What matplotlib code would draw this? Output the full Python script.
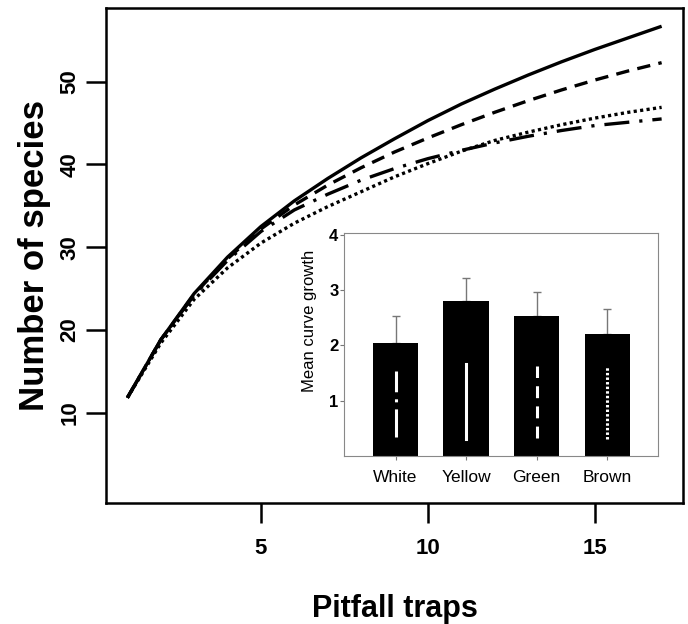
import matplotlib
matplotlib.use("Agg")
import matplotlib.pyplot as plt

plt.rcParams['font.family'] = ['Liberation Sans', 'DejaVu Sans']

# rarefaction curves (number of species vs pitfall traps)
traps = [1, 2, 3, 4, 5, 6, 7, 8, 9, 10, 11, 12, 13, 14, 15, 16, 17]
yellow = [11.8, 18.8, 24.4, 28.8, 32.5, 35.6, 38.3, 40.8, 43.1, 45.3, 47.3,
          49.1, 50.8, 52.4, 53.9, 55.3, 56.7]
green = [11.8, 18.8, 24.3, 28.6, 32.2, 35.1, 37.5, 39.6, 41.5, 43.2, 44.8,
         46.3, 47.7, 49.0, 50.2, 51.3, 52.3]
white = [11.8, 18.8, 24.2, 28.4, 31.9, 34.5, 36.4, 38.1, 39.5, 40.7, 41.7,
         42.6, 43.4, 44.1, 44.7, 45.1, 45.5]
brown = [11.8, 18.4, 23.7, 27.5, 30.5, 32.9, 34.9, 36.7, 38.5, 40.1, 41.6,
         42.9, 43.9, 44.8, 45.6, 46.3, 46.9]

# inset: mean curve growth
colours = ['White', 'Yellow', 'Green', 'Brown']
growth = [2.05, 2.81, 2.53, 2.20]
growth_err = [0.48, 0.41, 0.43, 0.46]
# white line-type keys drawn inside the bars
key_bottom = [0.35, 0.30, 0.32, 0.31]
key_top = [1.54, 1.66, 1.63, 1.62]

W, H = 688, 624
fig = plt.figure(figsize=(W / 100, H / 100), dpi=100)
ax = fig.add_axes([106 / W, 1 - 502.7 / H, 577 / W, 494.4 / H])

lw = 2.4
ax.plot(traps, brown, color='k', lw=lw, dashes=(0.95, 1.0))
ax.plot(traps, white, color='k', lw=lw, dashes=(7.5, 3.0, 0.95, 3.0))
ax.plot(traps, green, color='k', lw=lw, dashes=(4.0, 2.5))
ax.plot(traps, yellow, color='k', lw=lw, solid_capstyle='butt')

# R-style 4% padding around 1..17
ax.set_xlim(0.36, 17.64)
ax.set_ylim(-0.88, 58.87)
ax.set_xticks([5, 10, 15])
ax.set_yticks([10, 20, 30, 40, 50])
ax.set_xticklabels(['5', '10', '15'], fontsize=16, fontweight='bold')
ax.set_yticklabels(['10', '20', '30', '40', '50'], fontsize=16,
                   fontweight='bold', rotation=90, va='center')
ax.tick_params(axis='both', length=14.5, width=1.8, direction='out')
ax.tick_params(axis='x', pad=11)
ax.tick_params(axis='y', pad=4)
for s in ax.spines.values():
    s.set_linewidth(1.8)
ax.set_xlabel('Pitfall traps', fontsize=22, fontweight='bold', labelpad=25)
ax.set_ylabel('Number of species', fontsize=25, fontweight='bold', labelpad=6)

# inset bar chart
ins = fig.add_axes([344 / W, 1 - 456 / H, 314 / W, 223 / H])
ins.set_facecolor('white')
pos = [1, 2, 3, 4]
ins.bar(pos, growth, width=0.64, color='black', zorder=2)
ins.errorbar(pos, growth, yerr=[[0] * 4, growth_err], fmt='none',
             ecolor='#777777', elinewidth=1.0, capsize=3, capthick=1.0,
             zorder=1)
key_styles = [(9.2, 2.3, 1.0, 2.3), None, (3.9, 2.7), (0.8, 0.7)]
for p, b, t, d in zip(pos, key_bottom, key_top, key_styles):
    if d is None:
        ins.plot([p, p], [b, t], color='white', lw=2.2, zorder=3)
    else:
        ins.plot([p, p], [b, t], color='white', lw=2.2, dashes=d, zorder=3)

ins.set_xlim(0.27, 4.72)
ins.set_ylim(0, 4.03)
ins.set_xticks(pos)
ins.set_xticklabels(colours, fontsize=12.5)
ins.set_yticks([1, 2, 3, 4])
ins.set_yticklabels(['1', '2', '3', '4'], fontsize=12, fontweight='bold')
ins.tick_params(axis='both', length=3, width=0.8, color='#777777')
ins.tick_params(axis='x', pad=7)
ins.tick_params(axis='y', pad=1)
for s in ins.spines.values():
    s.set_linewidth(0.8)
    s.set_color('#888888')
ins.set_ylabel('Mean curve growth', fontsize=12)
ins.yaxis.set_label_coords(-0.085, 0.605)

fig.savefig('out.png', dpi=100)
